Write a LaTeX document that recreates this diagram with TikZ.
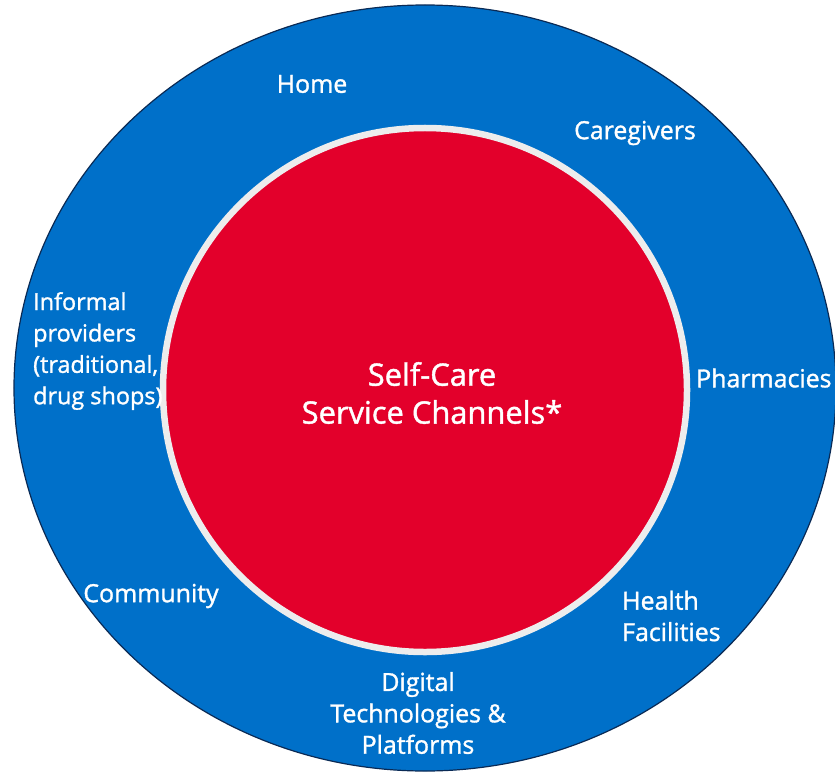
\documentclass[tikz,border=0pt]{standalone}
\usepackage{fontspec}
\setmainfont{Open Sans}[FakeBold=1.3]
\usetikzlibrary{positioning}

\definecolor{outerblue}{HTML}{0070C9}
\definecolor{corered}{HTML}{E3002B}
\definecolor{ringgray}{HTML}{EDEDED}
\definecolor{rimnavy}{HTML}{0A2A55}

\begin{document}
\begin{tikzpicture}[x=1bp, y=-1bp,
  channel/.style={text=white, inner sep=0pt, font=\fontsize{25}{31.5}\selectfont},
  core/.style={text=white, inner sep=0pt, align=center, font=\fontsize{31}{38}\selectfont}]
  \useasboundingbox (0,0) rectangle (835,772);
  % outer band: where self-care is reached
  \filldraw[fill=outerblue, draw=rimnavy, line width=1.2bp]
    (425,388) ellipse [x radius=411bp, y radius=383bp];
  % core disc with its light rim
  \filldraw[fill=corered, draw=ringgray, line width=6.5bp]
    (425,390) circle [radius=262bp];
  \node[core] (core) at (432,393) {Self-Care\\Service Channels*};
  % channels round the band, clockwise from the top
  \node[channel] (home) at (312,84) {Home};
  \node[channel] (caregivers) at (635,133) {Caregivers};
  \node[channel, anchor=west] (pharmacies) at (696,378) {Pharmacies};
  \node[channel, anchor=west, align=left] (health) at (622,616) {Health\\Facilities};
  \node[channel, align=center] (digital) at (418,713)
    {Digital\\Technologies \&\\Platforms};
  \node[channel] (community) at (151,596) {Community};
  \node[channel, anchor=west, align=left, font=\fontsize{23.5}{31.5}\selectfont]
    (informal) at (33,351) {Informal\\providers\\(traditional,\\drug shops)};
\end{tikzpicture}
\end{document}
